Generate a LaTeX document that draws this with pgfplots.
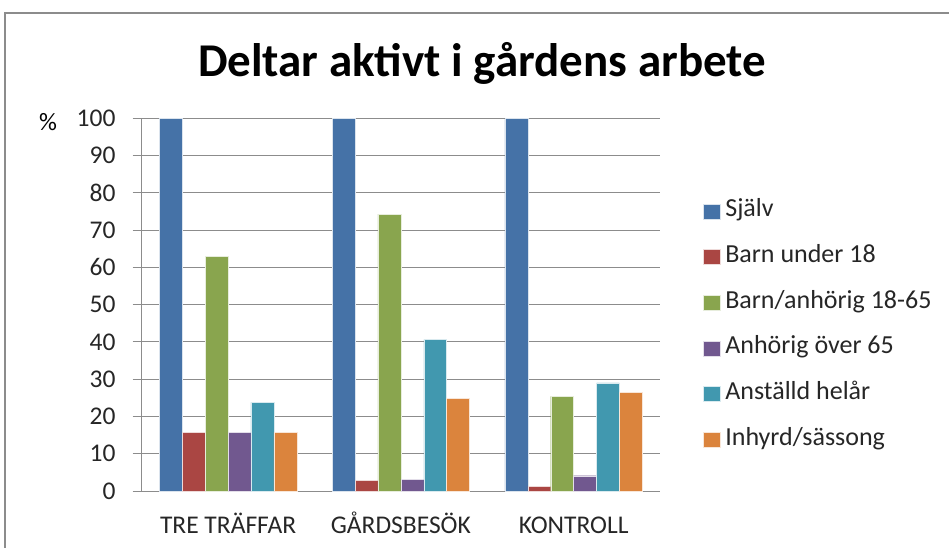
\documentclass[border=0pt]{standalone}
\usepackage{fontspec}
\setmainfont{Carlito}
\usepackage{pgfplots}
\pgfplotsset{compat=1.18}

\definecolor{gridgray}{HTML}{8C8C8C}
\definecolor{cSelv}{HTML}{4572A7}
\definecolor{cBarn}{HTML}{AA4643}
\definecolor{cAnh}{HTML}{89A54E}
\definecolor{cOld}{HTML}{71588F}
\definecolor{cAnst}{HTML}{4198AF}
\definecolor{cInh}{HTML}{DB843D}

\begin{document}
\begin{tikzpicture}[x=1pt,y=1pt]
\useasboundingbox (0,0) rectangle (949,547);
\draw[gridgray, line width=1.5pt] (5,-20) -- (5,534) -- (970,534);
\node[anchor=base, font=\fontsize{47}{56}\selectfont\bfseries] at (482,470) {Deltar aktivt i gårdens arbete};
\node[font=\fontsize{25}{30}\selectfont] at (48,424.5) {\%};
\begin{axis}[
  at={(141.7pt,56pt)}, anchor=south west,
  width=518.3pt, height=372.7pt, scale only axis,
  xmin=-0.5, xmax=2.5, ymin=0, ymax=100,
  enlargelimits=false,
  ybar=0pt, bar width=22.9pt,
  xtick={0,1,2},
  xticklabels={TRE TRÄFFAR, GÅRDSBESÖK, KONTROLL},
  ytick={0,10,...,100},
  ymajorgrids, grid style={gridgray, line width=1pt},
  axis x line*=bottom, axis y line*=left,
  axis line style={gridgray, line width=1pt, -},
  xtick style={draw=none},
  ytick style={gridgray, line width=1pt},
  tick align=outside, major tick length=9pt,
  /pgf/number format/assume math mode=true,
  ticklabel style={font=\fontsize{25.5}{30}\selectfont, text=black!85},
  yticklabel style={inner sep=0pt, xshift=-17pt},
  xticklabel style={inner sep=0pt, anchor=base, yshift=-33pt},
  legend style={at={(1.0824,0.782)}, anchor=north west, draw=none, fill=none,
    font=\fontsize{26}{30}\selectfont, text=black!85,
    row sep=22.7pt, inner sep=0pt,
    nodes={inner sep=0pt, text height=17pt, text depth=6pt},
    /tikz/every odd column/.append style={column sep=5pt}},
  legend cell align=left,
  legend image code/.code={\fill[#1] (0pt,-7.5pt) rectangle (17pt,7.5pt);},
]
\addplot[fill=cSelv, draw=white!80!cSelv, line width=0.4pt] coordinates {(0,100) (1,100) (2,100)};
\addplot[fill=cBarn, draw=white!80!cBarn, line width=0.4pt] coordinates {(0,15.8) (1,2.9) (2,1.3)};
\addplot[fill=cAnh, draw=white!80!cAnh, line width=0.4pt] coordinates {(0,63.0) (1,74.3) (2,25.4)};
\addplot[fill=cOld, draw=white!80!cOld, line width=0.4pt] coordinates {(0,15.8) (1,3.2) (2,4.1)};
\addplot[fill=cAnst, draw=white!80!cAnst, line width=0.4pt] coordinates {(0,23.8) (1,40.6) (2,29.0)};
\addplot[fill=cInh, draw=white!80!cInh, line width=0.4pt] coordinates {(0,15.8) (1,24.8) (2,26.5)};
\legend{Själv, Barn under 18, Barn/anhörig 18-65, Anhörig över 65, Anställd helår, Inhyrd/sässong}
\end{axis}
\end{tikzpicture}
\end{document}
